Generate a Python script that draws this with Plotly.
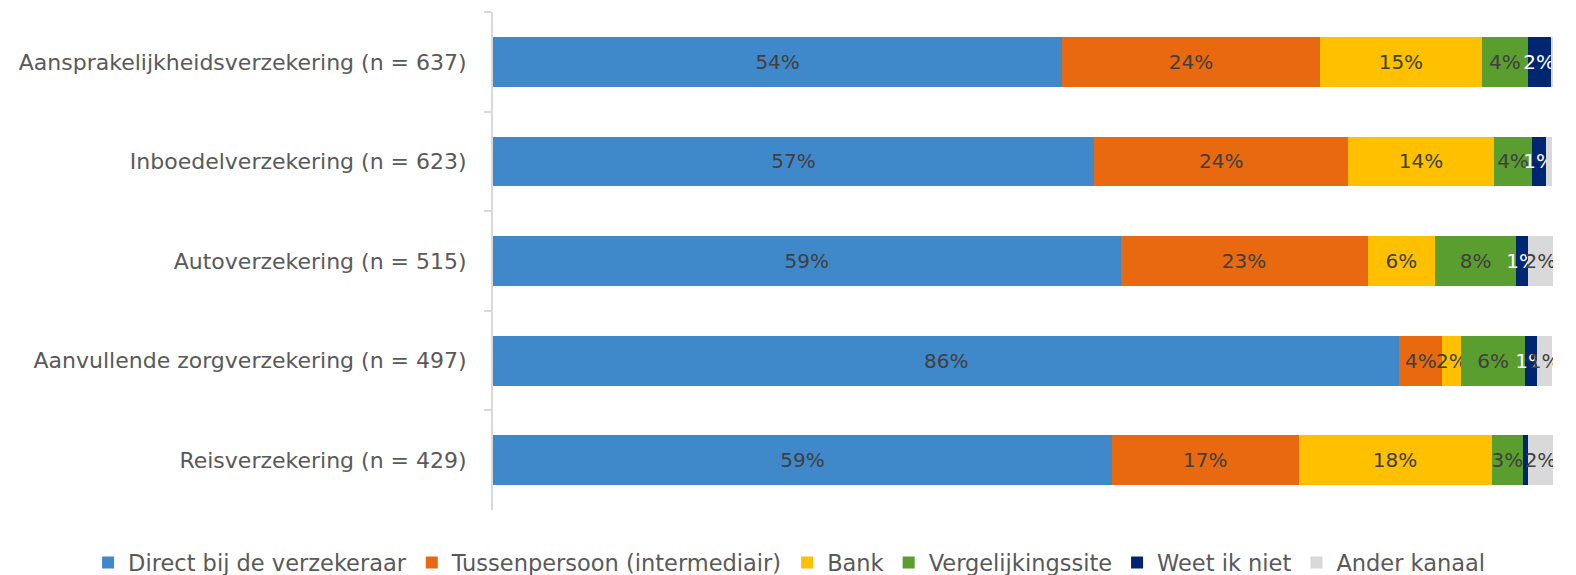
import plotly.graph_objects as go

categories = [
    "Aansprakelijkheidsverzekering (n = 637)",
    "Inboedelverzekering (n = 623)",
    "Autoverzekering (n = 515)",
    "Aanvullende zorgverzekering (n = 497)",
    "Reisverzekering (n = 429)",
]

series_names = [
    "Direct bij de verzekeraar",
    "Tussenpersoon (intermediair)",
    "Bank",
    "Vergelijkingssite",
    "Weet ik niet",
    "Ander kanaal",
]

direct = [53.7, 56.7, 59.2, 85.5, 58.4]
tussen = [24.3, 24.0, 23.3, 4.05, 17.6]
bank = [15.3, 13.7, 6.4, 1.8, 18.2]
vergelijk = [4.3, 3.65, 7.6, 6.0, 3.0]
weet_niet = [2.2, 1.26, 1.16, 1.17, 0.47]
ander = [0.25, 0.63, 2.3, 1.4, 2.3]

labels_direct = ["54%", "57%", "59%", "86%", "59%"]
labels_tussen = ["24%", "24%", "23%", "4%", "17%"]
labels_bank = ["15%", "14%", "6%", "2%", "18%"]
labels_vergelijk = ["4%", "4%", "8%", "6%", "3%"]
labels_weet_niet = ["2%", "1%", "1%", "1%", ""]
labels_ander = ["", "", "2%", "1%", "2%"]

colors = ["#3F88C9", "#E8690F", "#FFC000", "#5A9E2F", "#002671", "#D9D9D9"]
text_colors = ["#404040", "#404040", "#404040", "#404040", "#FFFFFF", "#404040"]

values = [direct, tussen, bank, vergelijk, weet_niet, ander]
labels = [labels_direct, labels_tussen, labels_bank, labels_vergelijk, labels_weet_niet, labels_ander]

FONT = "DejaVu Sans"
FS = 20

fig = go.Figure()
for name, vals, labs, col, tcol in zip(series_names, values, labels, colors, text_colors):
    fig.add_trace(go.Bar(
        y=categories,
        x=vals,
        name=name,
        orientation="h",
        marker=dict(color=col, line=dict(width=0)),
        text=labs,
        textposition="inside",
        insidetextanchor="middle",
        textangle=0,
        constraintext="none",
        textfont=dict(color=tcol, size=FS, family=FONT),
        hoverinfo="skip",
    ))

fig.update_layout(
    barmode="stack",
    bargap=0.5,
    width=1576,
    height=575,
    margin=dict(l=493, r=23, t=12, b=65, autoexpand=False),
    plot_bgcolor="white",
    paper_bgcolor="white",
    uniformtext=dict(mode="show", minsize=FS),
    font=dict(family=FONT, color="#595959"),
    legend=dict(
        orientation="h",
        x=-0.382,
        xanchor="left",
        y=-0.106,
        yanchor="middle",
        font=dict(size=22.5, color="#595959", family=FONT),
        itemwidth=30,
        traceorder="normal",
    ),
    xaxis=dict(
        range=[0, 100],
        visible=False,
        showgrid=False,
        fixedrange=True,
    ),
    yaxis=dict(
        autorange="reversed",
        showline=True,
        linecolor="#D9D9D9",
        linewidth=2,
        ticks="outside",
        tickson="boundaries",
        ticklen=7,
        tickcolor="#D9D9D9",
        tickwidth=2,
        tickfont=dict(size=22, color="#595959", family=FONT),
        ticklabelstandoff=20,
        showgrid=False,
    ),
)

fig.write_html(
    "out.html",
    config={"displayModeBar": False},
    post_script="document.body.style.margin='0';",
)
